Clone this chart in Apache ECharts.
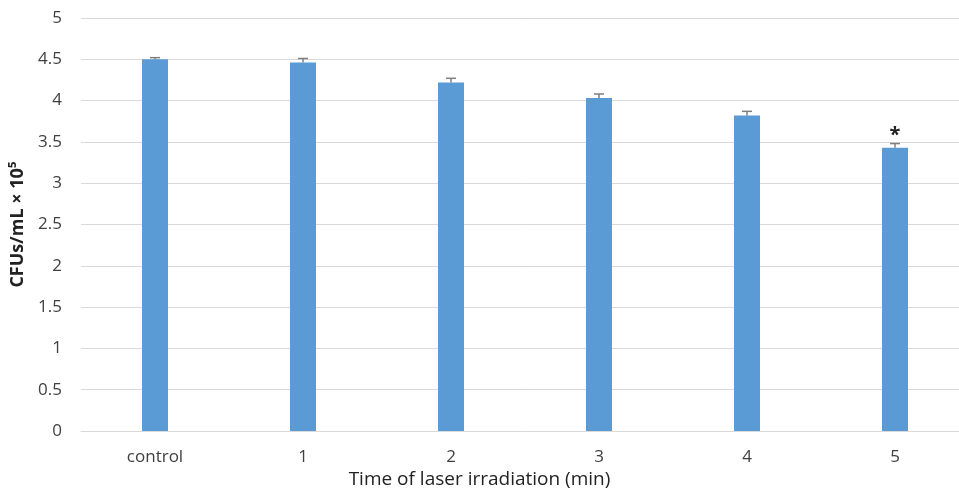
<!DOCTYPE html>
<html><head><meta charset="utf-8">
<script src="https://cdn.jsdelivr.net/npm/echarts@6/dist/echarts.min.js"></script>
<style>html,body{margin:0;padding:0;background:#fff}#c{width:959px;height:502px}</style>
</head><body><div id="c"></div>
<script>
const categories = ['control', '1', '2', '3', '4', '5'];
const values = [4.50, 4.46, 4.22, 4.03, 3.82, 3.43];
const errors = [0.02, 0.05, 0.05, 0.05, 0.05, 0.05];
const marks = ['', '', '', '', '', '*'];

const chart = echarts.init(document.getElementById('c'));
const font = '"Open Sans", "Liberation Sans", sans-serif';
chart.setOption({
  animation: false,
  grid: { left: 81, width: 888, top: 18, height: 413, containLabel: false, outerBoundsMode: 'none' },
  xAxis: {
    type: 'category', data: categories,
    axisLine: { lineStyle: { color: '#d9d9d9', width: 1 } },
    axisTick: { show: false },
    axisLabel: { color: '#404040', fontSize: 17, fontFamily: font, margin: 18 }
  },
  yAxis: {
    type: 'value', min: 0, max: 5, interval: 0.5,
    name: 'CFUs/mL × 10⁵', nameLocation: 'middle', nameGap: 50,
    nameTextStyle: { color: '#222', fontSize: 18, fontWeight: 'bold', fontFamily: font },
    axisLine: { show: false }, axisTick: { show: false },
    splitLine: { lineStyle: { color: '#d9d9d9', width: 1 } },
    axisLabel: { color: '#404040', fontSize: 17, fontFamily: font, margin: 19 }
  },
  graphic: [{
    type: 'text', left: 'center', top: 470,
    style: { text: 'Time of laser irradiation (min)', fill: '#222', fontSize: 19, fontFamily: font }
  }],
  series: [{
    type: 'bar', data: values, barWidth: 26,
    itemStyle: { color: '#5b9bd5' },
    z: 2
  }, {
    type: 'custom', z: 3,
    data: values.map((v, i) => [i, v, errors[i], marks[i]]),
    renderItem: function (params, api) {
      const x = api.value(0), v = api.value(1), e = api.value(2), m = api.value(3);
      const top = api.coord([x, v + e]);
      const base = api.coord([x, v]);
      const children = [
        { type: 'line', shape: { x1: top[0], y1: top[1], x2: top[0], y2: base[1] }, style: { stroke: '#7f7f7f', lineWidth: 1.5 } },
        { type: 'line', shape: { x1: top[0] - 5, y1: top[1], x2: top[0] + 5, y2: top[1] }, style: { stroke: '#7f7f7f', lineWidth: 1.5 } }
      ];
      if (m) {
        children.push({ type: 'text', style: { text: m, x: top[0], y: top[1] + 2, align: 'center', verticalAlign: 'bottom', fill: '#222', fontSize: 20, fontWeight: 'bold', fontFamily: font } });
      }
      return { type: 'group', children: children };
    }
  }]
});
</script></body></html>
